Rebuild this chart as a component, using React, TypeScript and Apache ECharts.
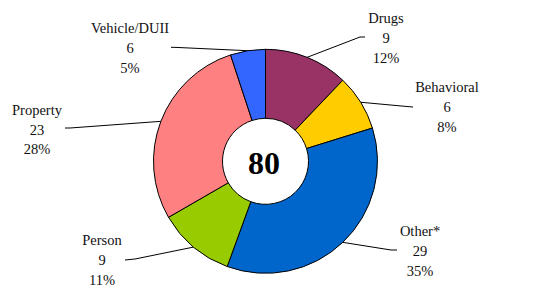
import React, { useEffect, useRef } from "react";
import * as echarts from "echarts";

const categories = ["Drugs", "Behavioral", "Other*", "Person", "Property", "Vehicle/DUII"];
const counts = [9, 6, 29, 9, 23, 6];
const percents = [12, 8, 35, 11, 28, 5];
const colors = ["#993366", "#FFCC00", "#0066CC", "#99CC00", "#FF8080", "#3366FF"];
const totalLabel = "80";

// label anchors (centre of the middle text line) and leader-line bend/end points
const labelAnchors: [number, number][] = [
  [386, 38],
  [447, 107],
  [420, 251],
  [102, 260],
  [37, 129.5],
  [130, 48],
];
const lineBends: [number, number][][] = [
  [[360, 37], [365, 37]],
  [[407, 106.5], [413, 107]],
  [[391, 250], [397, 250]],
  [[135, 259], [125, 260]],
  [[70, 128], [65, 128]],
  [[176, 47.4], [171, 47.3]],
];

const CX = 265.5;
const CY = 161.3;
const R_OUT = 112;
const R_IN = 43;
const SERIF = "Liberation Serif";
const LINE_GAP = 19.8;

const labelTexts = [
  (i: number) => categories[i],
  (i: number) => String(counts[i]),
  (i: number) => `${percents[i]}%`,
];

export default function App() {
  const ref = useRef<HTMLDivElement>(null);
  useEffect(() => {
    if (!ref.current) return;
    const chart = echarts.init(ref.current, undefined, { renderer: "svg" });

    const labelStyle = {
      fontFamily: SERIF,
      fontSize: 14.5,
      color: "#111111",
    };

    const makeSeries = (line: number) => {
      const main = line === 0;
      return {
        type: "pie",
        center: [CX, CY],
        radius: [R_IN, R_OUT],
        startAngle: 90,
        clockwise: true,
        avoidLabelOverlap: false,
        silent: true,
        z: main ? 2 : 1,
        data: categories.map((name, i) => ({
          name,
          value: percents[i],
          itemStyle: main
            ? { color: colors[i], borderColor: "#000", borderWidth: 1 }
            : { color: "rgba(0,0,0,0)", borderWidth: 0 },
          label: { ...labelStyle },
        })),
        label: {
          show: true,
          position: "outside",
          formatter: (p: any) => labelTexts[line](p.dataIndex),
          ...labelStyle,
        },
        labelLine: {
          show: main,
          smooth: false,
          lineStyle: { color: "#000", width: 1 },
        },
        labelLayout: (params: any) => {
          const i = params.dataIndex;
          const a = labelAnchors[i];
          const res: any = {
            x: a[0],
            y: a[1] + (line - 1) * LINE_GAP,
            align: "center",
            verticalAlign: "middle",
          };
          if (main) {
            const start =
              params.labelLinePoints && params.labelLinePoints[0]
                ? params.labelLinePoints[0]
                : [CX, CY];
            res.labelLinePoints = [start, lineBends[i][0], lineBends[i][1]];
          }
          return res;
        },
      };
    };

    chart.setOption({
      animation: false,
      backgroundColor: "#ffffff",
      textStyle: { fontFamily: SERIF },
      series: [makeSeries(1), makeSeries(2), makeSeries(0)],
      graphic: [
        {
          type: "text",
          x: 264,
          y: 163,
          silent: true,
          style: {
            text: totalLabel,
            fontFamily: SERIF,
            fontWeight: "bold",
            fontSize: 32,
            fill: "#000",
            textAlign: "center",
            textVerticalAlign: "middle",
          },
        },
      ],
    });
    return () => chart.dispose();
  }, []);
  return (
    <div
      ref={ref}
      style={{ position: "absolute", left: 0, top: 0, width: 558, height: 299 }}
    />
  );
}
